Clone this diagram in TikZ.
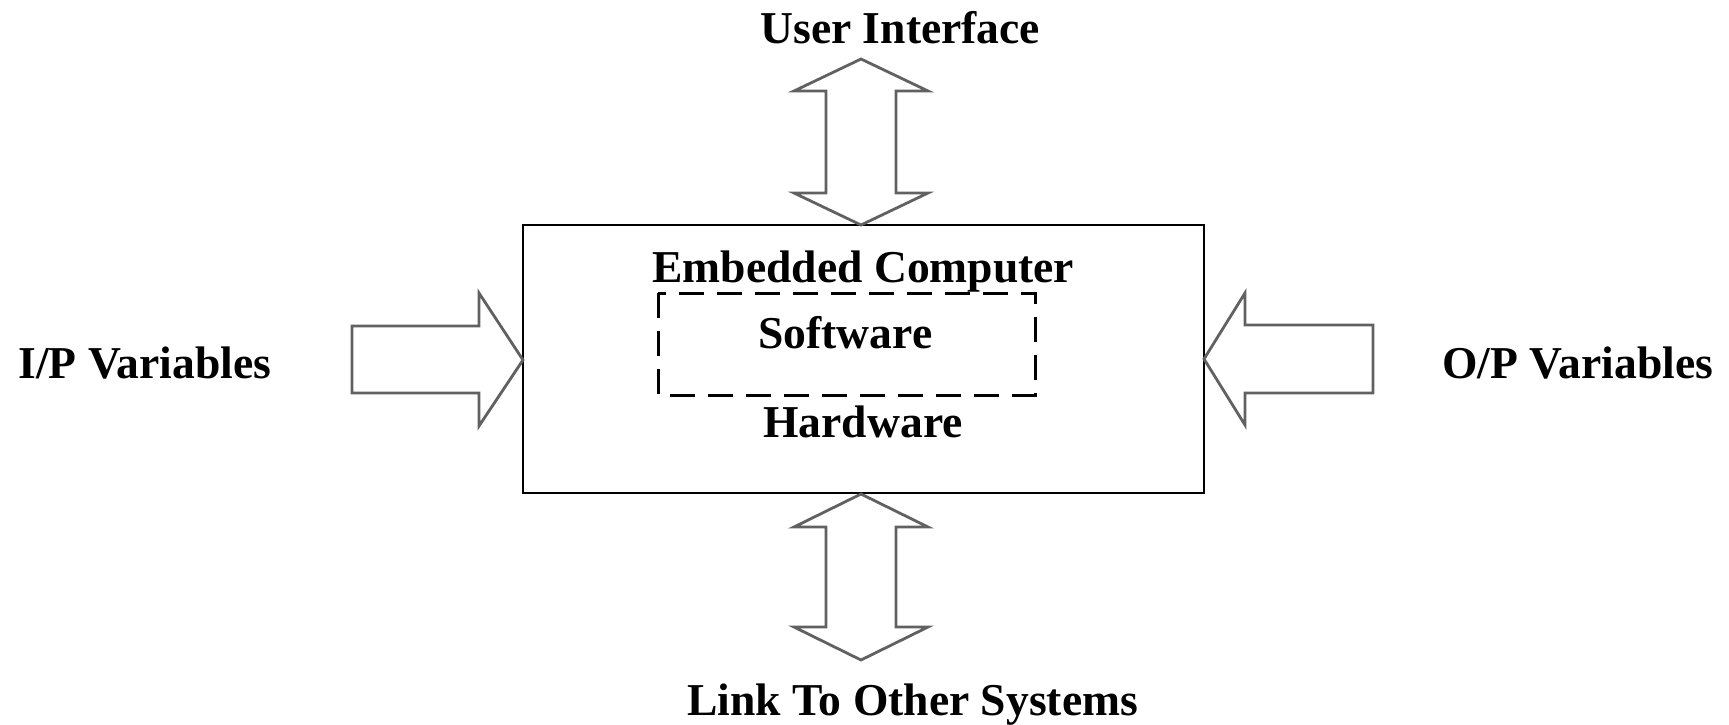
\documentclass[tikz,border=0pt]{standalone}
\usepackage{fontspec}
\setmainfont{Liberation Serif}
\begin{document}
\begin{tikzpicture}[x=0.5pt,y=-0.5pt,
  lbl/.style={font=\bfseries\fontsize{22.8}{26}\selectfont, inner sep=0pt, anchor=base west},
  blockarrow/.style={draw=black!62, line width=1.4pt, line join=miter, fill=white},
  mainbox/.style={draw=black, line width=1.1pt},
  swbox/.style={draw=black, line width=1.5pt, dash pattern=on 12.5pt off 6.5pt}]
\useasboundingbox (0,0) rectangle (1729,724);
% main box
\draw[mainbox] (523,225) rectangle (1204,493);
\coordinate (ecN) at (861,225);
\coordinate (ecS) at (861,494);
\coordinate (ecW) at (523,360);
\coordinate (ecE) at (1204,359);
% dashed software box
\draw[swbox] (658,293) rectangle (1035,395);
% top double arrow
\draw[blockarrow] (ecN) -- (794,193) -- (826,193) -- (826,91) -- (794,91) -- (861,59)
  -- (928,91) -- (896,91) -- (896,193) -- (928,193) -- cycle;
% bottom double arrow
\draw[blockarrow] (ecS) -- (928,527) -- (896,527) -- (896,627) -- (928,627) -- (861,660)
  -- (794,627) -- (826,627) -- (826,527) -- (794,527) -- cycle;
% left arrow
\draw[blockarrow] (ecW) -- (479,426) -- (479,393) -- (352,393) -- (352,326) -- (479,326)
  -- (479,293) -- cycle;
% right arrow
\draw[blockarrow] (ecE) -- (1245,293) -- (1245,325) -- (1373,325) -- (1373,393) -- (1245,393)
  -- (1245,425) -- cycle;
% labels
\node[lbl] (ui) at (760,43) {User Interface};
\node[lbl] (ec) at (652,282) {Embedded Computer};
\node[lbl] (sw) at (758,348) {Software};
\node[lbl] (hw) at (763,437) {Hardware};
\node[lbl] (ip) at (18,378) {I/P Variables};
\node[lbl] (op) at (1442,378) {O/P Variables};
\node[lbl] (lk) at (687,715) {Link To Other Systems};
\end{tikzpicture}
\end{document}
